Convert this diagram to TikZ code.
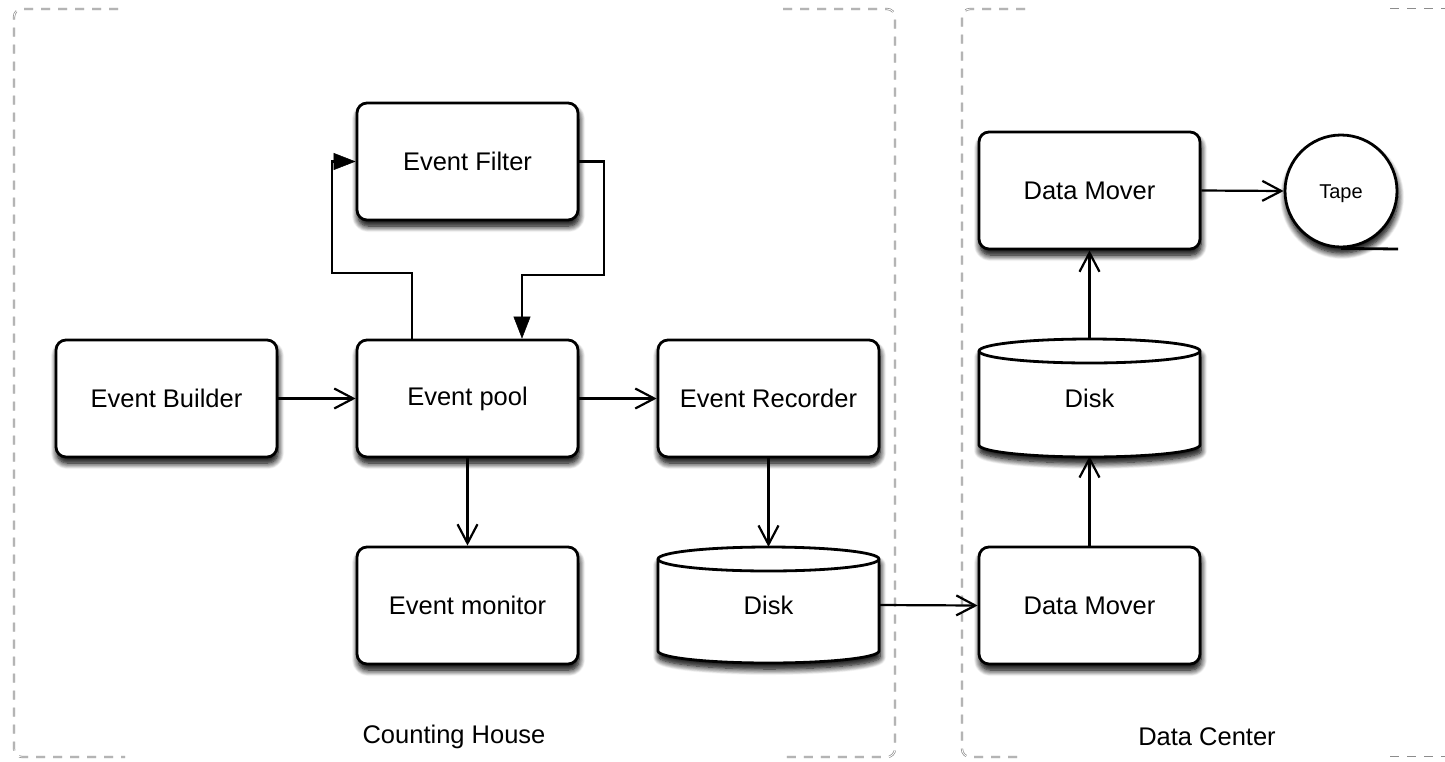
\documentclass[tikz,border=0pt]{standalone}
\usepackage{fontspec}
\setmainfont{Liberation Sans}
\usetikzlibrary{arrows.meta,shadows.blur,calc}

\tikzset{
  shade/.style={
    blur shadow={shadow xshift=2pt, shadow yshift=-13pt,
      shadow blur radius=11pt, shadow opacity=100, shadow blur steps=12},
    blur shadow={shadow xshift=1pt, shadow yshift=-6pt,
      shadow blur radius=6pt, shadow opacity=70, shadow blur steps=8}},
  procbox/.style={draw, fill=white, line width=2.8pt, rounded corners=10pt,
      minimum width=221pt, minimum height=117pt, shade,
      font=\fontsize{25.5}{30}\selectfont},
  diskbox/.style={minimum width=221pt, minimum height=116pt,
      font=\fontsize{25.5}{30}\selectfont},
  tapebox/.style={circle, draw, fill=white, line width=2.8pt,
      minimum size=112pt, inner sep=0pt, shade,
      font=\fontsize{20}{24}\selectfont},
  flow/.style={line width=2.2pt, -{Straight Barb[length=19pt,width=20pt,line width=2.2pt]}},
  loopflow/.style={line width=2.2pt,
      -{Triangle[length=22pt,width=17pt,fill=black,line width=0.5pt]}},
  region/.style={draw=gray!90, double=white, double distance=0.8pt,
      line width=0.7pt, dash pattern=on 9pt off 8pt, rounded corners=8pt},
  caption/.style={font=\fontsize{25.5}{30}\selectfont}
}

% cylinder outline: #1 left x, #2 right x, #3 top ellipse y, #4 bottom ellipse y
\newcommand\drawdisk[4]{%
  \path[draw, fill=white, line width=2.8pt, shade]
    (#1,#3) -- (#1,#4)
    arc[start angle=180, end angle=360, x radius={(#2-#1)/2*1pt}, y radius=12pt]
    -- (#2,#3)
    arc[start angle=0, end angle=180, x radius={(#2-#1)/2*1pt}, y radius=12pt]
    -- cycle;
  \draw[line width=2.8pt] (#1,#3)
    arc[start angle=180, end angle=360, x radius={(#2-#1)/2*1pt}, y radius=12pt];
}

\begin{document}
\begin{tikzpicture}[x=1pt, y=-1pt]
\useasboundingbox (0,0) rectangle (1445,761);

% dashed regions
\draw[region] (118,9) -- (14,9) -- (14,757) -- (125,757);
\draw[region] (783,9) -- (895,9) -- (895,757) -- (785,757);
\draw[region] (1025,9) -- (962,9) -- (962,757) -- (1025,757);
\draw[region] (1390,9) -- (1460,9);
\draw[region] (1390,757) -- (1460,757);

\node[caption] (chouse) at (454,737) {Counting House};
\node[caption] (dcenter) at (1207,737) {Data Center};

% disks
\drawdisk{658}{879}{559}{651}
\drawdisk{979}{1200}{351}{445}
\node[diskbox] (diskL) at (768.5,605) {Disk};
\node[diskbox] (diskR) at (1089.5,398) {Disk};

% processes
\node[procbox] (filter)   at (467.5,161.5) {Event Filter};
\node[procbox] (builder)  at (166.5,398.5) {Event Builder};
\node[procbox] (pool)     at (467.5,398.5) {Event pool};
\node[procbox] (recorder) at (768.5,398.5) {Event Recorder};
\node[procbox] (monitor)  at (467.5,605.5) {Event monitor};
\node[procbox] (moverT)   at (1089.5,190.5) {Data Mover};
\node[procbox] (moverB)   at (1089.5,605.5) {Data Mover};
\node[tapebox, text depth=0pt] (tape) at (1341,191) {\raisebox{-2pt}{Tape}};
\coordinate (tapeend) at (1398,249);
\draw[line width=2.8pt] (tape.south) -- (tapeend);

% connectors
\draw[flow] (builder.east) -- (pool.west);
\draw[flow] (pool.east) -- (recorder.west);
\draw[flow] (pool.south) -- (monitor.north);
\draw[flow] (recorder.south) -- (diskL.north);
\draw[flow] (diskL.east) -- (moverB.west);
\draw[flow] (moverB.north) -- (diskR.south);
\draw[flow] (diskR.north) -- (moverT.south);
\draw[flow] (moverT.east) -- (tape.west);

% filter loop
\draw[loopflow] ([xshift=-55.5pt]pool.north) |- (332,273) |- (filter.west);
\draw[loopflow] (filter.east) -| (604,275) -| ([xshift=54.5pt]pool.north);
\end{tikzpicture}
\end{document}
